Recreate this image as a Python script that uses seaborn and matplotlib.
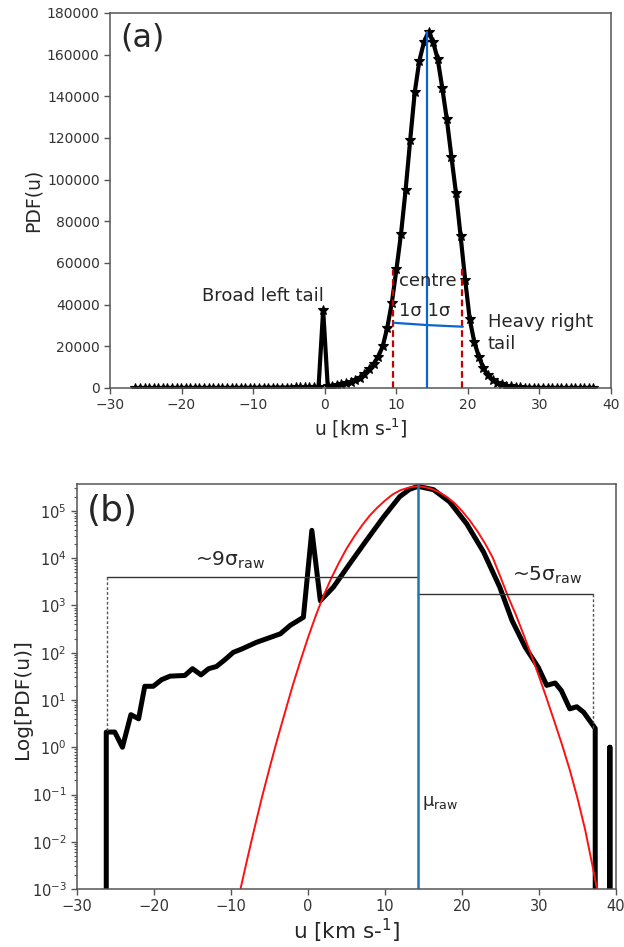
import numpy as np
import matplotlib
matplotlib.use("Agg")
import matplotlib.pyplot as plt
from matplotlib.ticker import LogLocator, NullFormatter, MultipleLocator
import seaborn as sns

# ---------------- data ----------------
# (a) histogram of the raw velocity, bin centres every 0.64 km/s
u_lin = np.linspace(-26.46, 37.54, 101)
pdf_lin = [
    2, 2, 2, 1, 2, 5, 4, 5, 18, 19,
    20, 25, 28, 31, 33, 33, 34, 40, 46, 38,
    36, 45, 48, 53, 64, 80, 98, 110, 120, 135,
    150, 168, 182, 200, 215, 235, 260, 320, 400, 470,
    560, 37500, 900, 1100, 1400, 1800, 2300, 2900, 3600, 5000,
    6800, 9000, 11500, 15000, 20000, 29000, 41000, 57000, 74000, 95000,
    119000, 142000, 157000, 166000, 171000, 166000, 158000, 144000, 129000, 111000,
    93500, 73000, 52000, 33000, 22000, 15000, 9500, 6000, 4000, 2600,
    1700, 1100, 750, 480, 300, 190, 120, 75, 50, 32,
    20, 22, 21, 16, 7, 7, 7, 6, 4, 2.5,
    0,
]

# (b) the same kind of PDF on a log axis (empty bins are 0)
u_log = [-26.2, -26.2, -25.1, -24.1, -23.0, -22.0, -21.2, -20.1, -19.0, -17.9,
         -16.0, -15.0, -13.9, -12.9, -11.9, -10.8, -9.7, -8.6, -6.7, -3.6,
         -2.3, -0.6, 0.5, 1.6, 3.3, 5.45, 7.6, 9.8, 11.9, 13.2,
         14.3, 16.3, 18.4, 20.6, 22.8, 24.9, 26.5, 28.2, 29.9, 31.0,
         32.1, 32.9, 34.0, 34.9, 35.8, 37.3, 37.3, 39.2, 39.2, 39.2]
pdf_log = [0, 2.1, 2.1, 1.0, 4.9, 4.0, 19.5, 19.5, 27, 32,
           33, 46, 34, 46, 51, 71, 102, 120, 166, 251,
           380, 562, 38900, 1260, 2450, 7760, 24000, 74100, 200000, 288000,
           331000, 282000, 155000, 53700, 13500, 2450, 479, 132, 49, 20.4,
           22.9, 15.8, 6.5, 7.2, 5.5, 2.5, 0, 0, 1.0, 0]

# Gaussian fit to the core
u_fit = np.arange(-9, 39)
pdf_fit = [6.8e-4, 3.6e-3, 1.8e-2, 8.5e-2, 0.36, 1.45, 5.4, 20, 66, 209,
           603, 1585, 3715, 7940, 15850, 28800, 49000, 79400, 117500, 166000,
           224000, 275000, 309000, 331000, 324000, 295000, 251000, 200000, 148000, 100000,
           63100, 37200, 20400, 10200, 3980, 1510, 631, 240, 89, 31.6,
           10.7, 3.5, 1.12, 0.33, 0.083, 0.0178, 2.8e-3, 4e-4]

# annotation geometry
MU_CENTRE = 14.3          # centre of the distribution (km/s)
PEAK_A = 171000
SIGMA_EDGES = [9.6, 19.2]  # +-1 sigma markers in (a)
SIGMA_TOPS = [56600, 57600]
SPAN_U = [9.6, 14.3, 19.3]
SPAN_PDF = [31300, 30200, 29400]
LEFT_EDGE, RIGHT_EDGE = -26.15, 37.05
LEFT_BAR, RIGHT_BAR = 4000, 1780
EDGE_FLOOR = [2.1, 2.4]

# ---------------- style ----------------
sns.set_theme(style="ticks")
plt.rcParams["font.family"] = ["DejaVu Sans"]
plt.rcParams["axes.edgecolor"] = "#555555"
plt.rcParams["axes.linewidth"] = 1.1
plt.rcParams["xtick.color"] = "#555555"
plt.rcParams["ytick.color"] = "#555555"
plt.rcParams["xtick.labelcolor"] = "#333333"
plt.rcParams["ytick.labelcolor"] = "#333333"

fig = plt.figure(figsize=(6.24, 9.47), dpi=100)
ax1 = fig.add_axes([0.1763, 0.5903, 0.8029, 0.3960])
ax2 = fig.add_axes([0.1234, 0.0612, 0.8638, 0.4277])

# ---------------- panel (a) ----------------
sns.lineplot(x=u_lin, y=pdf_lin, ax=ax1, color="black", lw=3,
             marker="*", markersize=7.5, markeredgecolor="black",
             markeredgewidth=0.8, estimator=None, sort=False)
for xe, top in zip(SIGMA_EDGES, SIGMA_TOPS):
    sns.lineplot(x=[xe, xe], y=[0, top], ax=ax1, color="#c40000", lw=1.6,
                 linestyle=(0, (3, 1.6)), estimator=None, sort=False)
sns.lineplot(x=[MU_CENTRE, MU_CENTRE], y=[0, PEAK_A], ax=ax1,
             color="#0a64d2", lw=1.6, estimator=None, sort=False)
sns.lineplot(x=SPAN_U, y=SPAN_PDF, ax=ax1, color="#0a64d2", lw=1.6,
             estimator=None, sort=False)

ax1.set_xlim(-30, 40)
ax1.set_ylim(0, 180000)
ax1.xaxis.set_major_locator(MultipleLocator(10))
ax1.yaxis.set_major_locator(MultipleLocator(20000))
ax1.tick_params(labelsize=10, length=4, width=1)
ax1.set_xlabel("u [km s-$^\\mathregular{1}$]", fontsize=13.5, labelpad=3)
ax1.set_ylabel("PDF(u)", fontsize=13.5, labelpad=3)

ax1.text(0.02, 0.975, "(a)", transform=ax1.transAxes, fontsize=23,
         ha="left", va="top")
ax1.text(-17.1, 44000, "Broad left tail", fontsize=13, ha="left", va="center")
ax1.text(10.4, 51400, "centre", fontsize=13, ha="left", va="center")
ax1.text(10.4, 37000, "1σ 1σ", fontsize=13, ha="left", va="center")
ax1.text(22.8, 26400, "Heavy right\ntail", fontsize=13, ha="left",
         va="center", linespacing=1.25)

# ---------------- panel (b) ----------------
sns.lineplot(x=u_log, y=pdf_log, ax=ax2, color="black", lw=3.6,
             estimator=None, sort=False)
sns.lineplot(x=u_fit, y=pdf_fit, ax=ax2, color="#ff1010", lw=1.4,
             estimator=None, sort=False)

# bracket lines for the tail extents
sns.lineplot(x=[LEFT_EDGE, MU_CENTRE], y=[LEFT_BAR, LEFT_BAR], ax=ax2,
             color="#333333", lw=1.0, estimator=None, sort=False)
sns.lineplot(x=[MU_CENTRE, RIGHT_EDGE], y=[RIGHT_BAR, RIGHT_BAR], ax=ax2,
             color="#333333", lw=1.0, estimator=None, sort=False)
sns.lineplot(x=[LEFT_EDGE, LEFT_EDGE], y=[LEFT_BAR, EDGE_FLOOR[0]], ax=ax2,
             color="#555555", lw=1.0, linestyle=(0, (2, 1.5)),
             estimator=None, sort=False)
sns.lineplot(x=[RIGHT_EDGE, RIGHT_EDGE], y=[RIGHT_BAR, EDGE_FLOOR[1]], ax=ax2,
             color="#555555", lw=1.0, linestyle=(0, (2, 1.5)),
             estimator=None, sort=False)
ax2.axvline(MU_CENTRE, color="#1f77b4", lw=1.8)

ax2.set_yscale("log")
ax2.set_xlim(-30, 40)
ax2.set_ylim(1e-3, 10 ** 5.57)
ax2.xaxis.set_major_locator(MultipleLocator(10))
ax2.yaxis.set_major_locator(LogLocator(base=10, numticks=20))
ax2.yaxis.set_minor_locator(LogLocator(base=10, subs=np.arange(2, 10), numticks=100))
ax2.yaxis.set_minor_formatter(NullFormatter())
ax2.tick_params(labelsize=10.5, length=4, width=1)
ax2.tick_params(which="minor", length=2.5, width=0.8)
ax2.set_xlabel("u [km s-$^\\mathregular{1}$]", fontsize=15.5, labelpad=2)
ax2.set_ylabel("Log[PDF(u)]", fontsize=14.5)
ax2.yaxis.set_label_coords(-0.083, 0.47)

ax2.text(0.018, 0.975, "(b)", transform=ax2.transAxes, fontsize=26,
         ha="left", va="top")
ax2.text(-10.1, 9000, "~9σ$_\\mathregular{raw}$", fontsize=14.5,
         ha="center", va="center")
ax2.text(31.1, 4360, "~5σ$_\\mathregular{raw}$", fontsize=14.5,
         ha="center", va="center")
ax2.text(14.8, 0.065, "μ$_\\mathregular{raw}$", fontsize=13,
         ha="left", va="center")

fig.savefig("out.png", dpi=100)
